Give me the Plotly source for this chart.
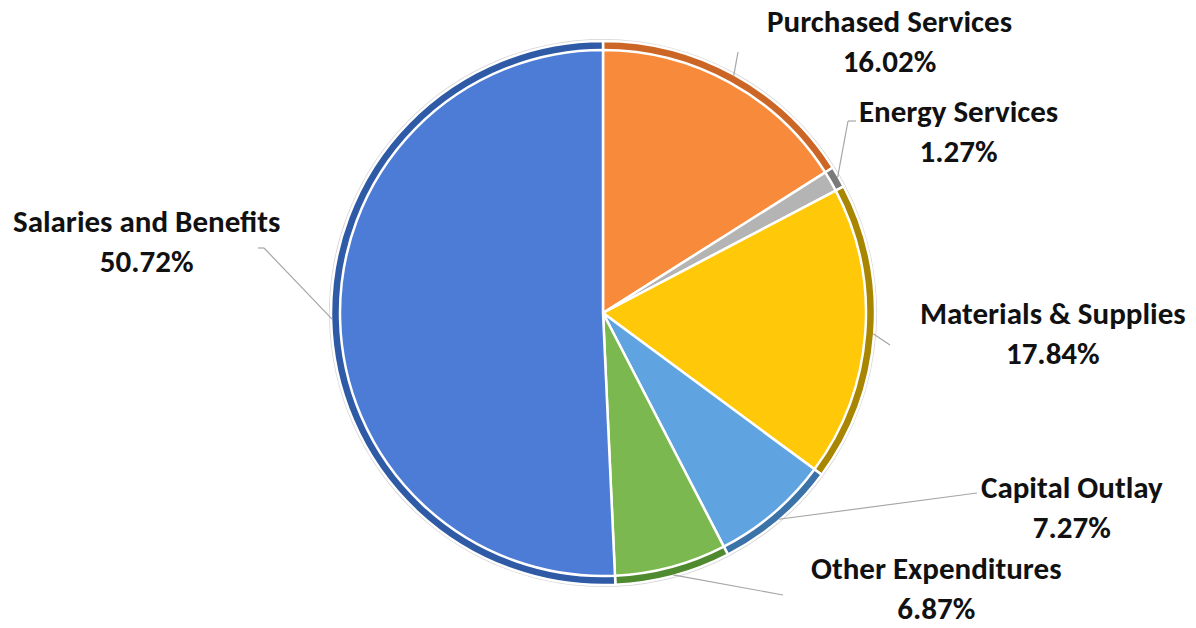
import math
import plotly.graph_objects as go

# Expenditure categories, clockwise from 12 o'clock
categories = ["Purchased Services", "Energy Services", "Materials & Supplies",
              "Capital Outlay", "Other Expenditures", "Salaries and Benefits"]
shares = [16.02, 1.27, 17.84, 7.27, 6.87, 50.72]

face_colors = ["#F88A3C", "#B4B4B4", "#FFC90A", "#5FA3E0", "#7BB84F", "#4C7CD5"]
rim_colors = ["#CC6626", "#7A7A7A", "#A88600", "#3B72A8", "#4F8A2F", "#2F5AA6"]

# Label anchor (text centre) and leader-line elbow, in page pixels
label_pos = [(889, 41), (958, 131), (1053, 333), (1072, 507), (936, 588), (146, 241)]
leader_end = [(738, 52), (848, 121), (890, 345), (977, 493), (783, 595), (264, 248)]
leader_tail = [None, (856, 121), None, None, None, (258, 248)]

W, H = 1196, 628
cx, cy, R = 603, 313, 272

def dom(r):
    return dict(x=[(cx - r) / W, (cx + r) / W],
                y=[(H - cy - r) / H, (H - cy + r) / H])

fig = go.Figure()

# soft outer edge
fig.add_trace(go.Pie(labels=categories, values=shares, sort=False, direction="clockwise",
                     rotation=0, domain=dom(R + 2), textinfo="none", hoverinfo="skip",
                     marker=dict(colors=["#D4D4D4"] * 6, line=dict(width=0)),
                     showlegend=False))
# darker rim
fig.add_trace(go.Pie(labels=categories, values=shares, sort=False, direction="clockwise",
                     rotation=0, domain=dom(R), textinfo="none", hoverinfo="skip",
                     marker=dict(colors=rim_colors, line=dict(color="white", width=2.5)),
                     showlegend=False))
# slice faces
fig.add_trace(go.Pie(labels=categories, values=shares, sort=False, direction="clockwise",
                     rotation=0, domain=dom(R - 9), textinfo="none",
                     marker=dict(colors=face_colors, line=dict(color="white", width=2.5)),
                     showlegend=False))

# leader lines from each slice's mid-angle to its label
total = sum(shares)
cum = 0.0
for i, v in enumerate(shares):
    mid = (cum + v / 2) / total * 2 * math.pi
    cum += v
    sx = cx + (R - 1) * math.sin(mid)
    sy = cy - (R - 1) * math.cos(mid)
    ex, ey = leader_end[i]
    fig.add_shape(type="line", x0=sx, y0=sy, x1=ex, y1=ey, xref="x", yref="y",
                  line=dict(color="#A6A6A6", width=1.2))
    if leader_tail[i]:
        tx, ty = leader_tail[i]
        fig.add_shape(type="line", x0=ex, y0=ey, x1=tx, y1=ty, xref="x", yref="y",
                      line=dict(color="#A6A6A6", width=1.2))
    lx, ly = label_pos[i]
    fig.add_annotation(x=lx, y=ly, xref="x", yref="y", showarrow=False,
                       text=f"<b>{categories[i]}</b><br><b>{v:.2f}%</b>",
                       align="center", xanchor="center", yanchor="middle",
                       font=dict(family="Carlito, Lato", size=31, color="#111111"))

fig.update_layout(
    width=W, height=H, margin=dict(l=0, r=0, t=0, b=0),
    paper_bgcolor="white", plot_bgcolor="rgba(0,0,0,0)",
    xaxis=dict(range=[0, W], visible=False, domain=[0, 1]),
    yaxis=dict(range=[H, 0], visible=False, domain=[0, 1]),
    showlegend=False,
)

fig.write_html("out.html")
